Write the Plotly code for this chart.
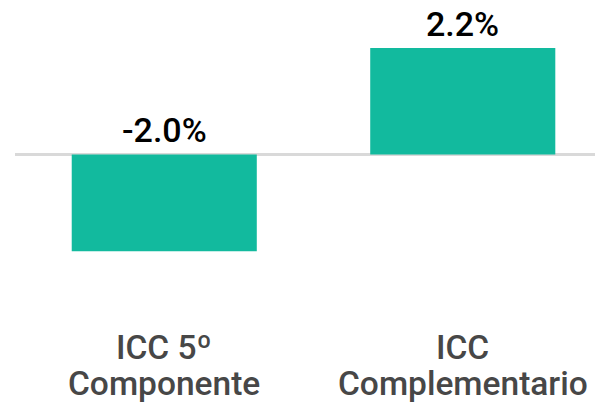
import plotly.graph_objects as go

categories = ["ICC 5º<br>Componente", "ICC<br>Complementario"]
values = [-2.0, 2.2]
value_labels = ["-2.0%", "2.2%"]

bar_color = "#12BA9E"

fig = go.Figure()
fig.add_trace(go.Bar(
    x=categories, y=values, marker=dict(color=bar_color, line=dict(width=0)),
    width=0.62, hoverinfo="skip",
))

for c, v, t in zip(categories, values, value_labels):
    fig.add_annotation(x=c, y=max(v, 0), xref="x", yref="y", text=t,
                       showarrow=False, yanchor="bottom", yshift=2,
                       font=dict(family="Roboto", size=34, color="#000000", weight=500))
    for i, line in enumerate(c.split("<br>")):
        fig.add_annotation(x=c, y=0.196, xref="x", yref="paper", text=line,
                           showarrow=False, yanchor="top", yshift=-i * 36,
                           font=dict(family="Roboto", size=33.5, color="#474747", weight=500))

fig.update_layout(
    width=595, height=405,
    margin=dict(l=15, r=0, t=0, b=0),
    paper_bgcolor="white", plot_bgcolor="white",
    showlegend=False,
    xaxis=dict(range=[-0.5, 1.443], showticklabels=False, showgrid=False,
               zeroline=False, showline=False, ticks=""),
    yaxis=dict(range=[-5.176, 3.192], showticklabels=False, showgrid=False,
               zeroline=True, zerolinecolor="#D9D9D9", zerolinewidth=3,
               showline=False, ticks=""),
)

fig.write_html("out.html", config={"displayModeBar": False},
               post_script="document.body.style.margin='0';")
